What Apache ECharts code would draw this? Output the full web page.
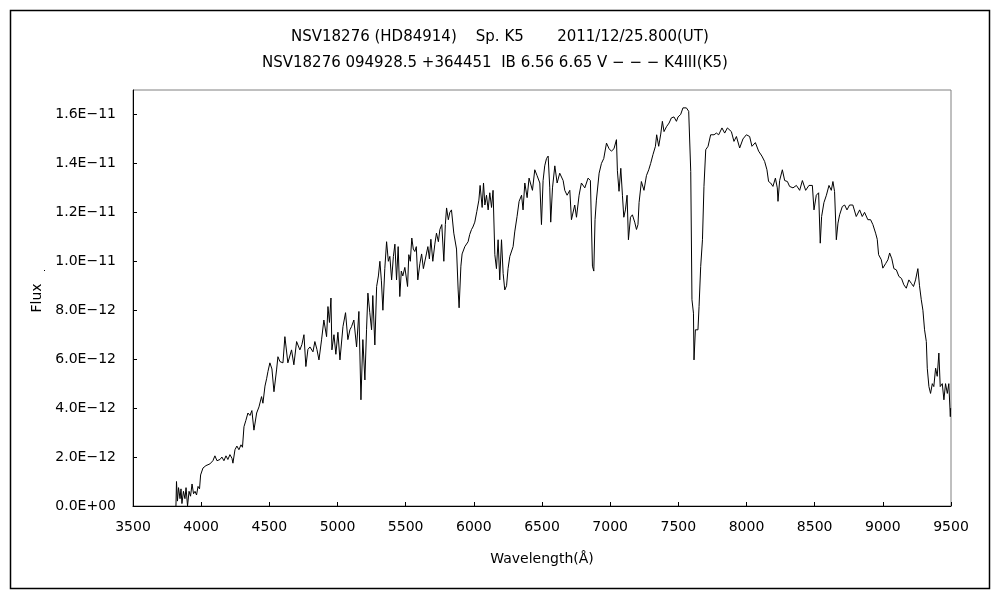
<!DOCTYPE html>
<html>
<head>
<meta charset="utf-8">
<script src="https://cdn.jsdelivr.net/npm/echarts@6/dist/echarts.min.js"></script>
<style>
html,body{margin:0;padding:0;background:#fff;}
#chart{width:1000px;height:600px;}
</style>
</head>
<body>
<div id="chart"></div>
<script>
// Wavelength (Angstrom)
const wavelength = [
3815,3819,3826,3834,3845,3852,3859,3870,3881,3889,3900,3911,3922,3933,3944,3955,3966,3977,3988,
3996,4013,4035,4064,4086,4101,4116,4138,4152,4167,4182,4196,4211,4226,4233,4248,4262,4277,4292,4303,
4314,4328,4343,4358,4372,4387,4407,4424,4443,4453,4468,4480,4490,4504,4519,4534,4553,4563,4578,4600,
4614,4636,4663,4680,4700,4724,4739,4754,4768,4783,4798,4820,4834,4849,4864,4883,4900,4920,4930,4941,
4952,4959,4974,4988,5003,5018,5040,5059,5076,5091,5103,5120,5140,5157,5172,5186,5201,5213,5223,5237,
5250,5259,5274,5287,5300,5311,5322,5333,5347,5360,5373,5384,5397,5410,5421,5433,5445,5457,5468,5479,
5494,5514,5523,5534,5545,5556,5567,5578,5589,5604,5617,5630,5641,5652,5663,5674,5685,5699,5714,5726,
5740,5751,5765,5780,5791,5800,5813,5824,5836,5853,5873,5885,5892,5905,5914,5934,5958,5970,5983,5993,
6007,6022,6037,6046,6061,6071,6081,6093,6105,6117,6130,6141,6154,6166,6178,6190,6203,6215,6227,6240,
6251,6264,6288,6300,6317,6332,6350,6361,6374,6391,6405,6430,6447,6464,6484,6496,6508,6520,6533,6545,
6557,6564,6577,6594,6611,6630,6655,6667,6684,6704,6716,6740,6753,6772,6789,6814,6838,6855,6870,6880,
6889,6899,6919,6936,6953,6973,6992,7009,7028,7046,7053,7065,7078,7090,7100,7112,7124,7134,7149,7163,
7180,7193,7204,7212,7229,7248,7266,7283,7297,7314,7332,7341,7356,7371,7383,7395,7413,7432,7449,7468,
7486,7498,7517,7534,7559,7576,7591,7600,7611,7615,7625,7644,7652,7664,7677,7688,7701,7718,7737,7762,
7779,7796,7820,7840,7860,7889,7908,7926,7950,7974,7999,8023,8040,8065,8089,8113,8133,8150,8162,8177,
8194,8212,8226,8231,8243,8263,8280,8300,8316,8341,8366,8390,8410,8434,8458,8483,8495,8512,8529,8541,
8551,8568,8586,8605,8622,8634,8646,8659,8671,8683,8703,8720,8737,8756,8780,8805,8830,8849,8866,8890,
8910,8927,8947,8959,8969,8989,9000,9020,9037,9050,9066,9081,9099,9118,9137,9154,9172,9191,9209,9225,
9240,9257,9269,9282,9294,9306,9319,9326,9338,9350,9363,9374,9387,9399,9411,9421,9436,9448,9460,9473,
9484,9495,9497
];
// Flux in units of 1E-12
const fluxE12 = [
0.0,1.0,0.2,0.75,0.3,0.7,0.1,0.6,0.3,0.75,0.0,0.6,0.4,0.9,0.5,0.6,0.45,0.8,0.7,
1.27,1.55,1.65,1.72,1.85,2.05,1.85,1.9,2.0,1.85,2.05,1.9,2.1,1.95,1.75,2.3,2.45,2.3,2.5,2.4,
3.24,3.5,3.8,3.7,3.9,3.1,3.8,4.05,4.47,4.2,4.9,5.2,5.5,5.85,5.6,4.67,5.56,6.1,5.9,5.85,
6.92,5.85,6.38,5.77,6.72,6.38,6.6,7.0,5.7,6.4,6.5,6.3,6.72,6.4,5.97,6.79,7.6,6.92,8.15,7.5,
8.5,6.38,7.0,6.2,7.1,5.97,7.33,7.9,6.8,7.2,7.33,7.6,6.5,7.95,4.34,6.8,5.15,7.2,8.7,7.9,
7.2,8.6,6.58,8.97,9.4,10.0,9.2,8.0,9.7,10.8,10.0,10.2,9.24,10.2,10.7,9.24,10.6,8.56,9.6,9.4,
9.75,8.97,10.27,10.0,10.95,10.5,10.4,10.6,9.24,9.9,10.3,9.7,9.75,10.3,10.6,10.1,10.9,10.0,10.7,11.15,
10.8,11.3,11.5,10.0,11.5,12.18,11.7,12.0,12.1,11.15,10.5,8.83,8.1,9.8,10.3,10.6,10.8,11.1,11.3,11.4,
11.6,12.04,12.5,13.1,12.2,13.2,12.3,12.7,12.1,12.8,12.2,12.9,10.27,9.7,10.88,9.24,10.88,9.5,8.83,9.0,
9.7,10.2,10.6,11.2,11.83,12.45,12.7,12.1,13.2,12.6,13.4,12.9,13.74,13.5,13.2,11.5,13.3,13.9,14.2,14.3,
13.0,11.6,13.0,13.9,13.2,13.6,13.3,12.9,12.7,12.9,11.7,12.3,11.8,12.7,13.2,13.0,13.4,13.3,9.8,9.6,
11.7,12.5,13.6,14.0,14.2,14.83,14.6,14.5,14.6,14.97,13.7,12.86,13.8,12.7,11.8,12.1,12.7,10.88,11.8,11.9,
11.6,11.3,11.5,12.4,13.26,12.9,13.5,13.74,14.0,14.36,14.7,15.17,14.7,15.2,15.72,15.3,15.5,15.65,15.86,15.9,
15.72,15.9,16.0,16.27,16.27,16.13,13.67,8.43,7.88,5.97,7.2,7.2,8.15,9.79,10.88,13.06,14.56,14.7,15.17,15.17,
15.24,15.17,15.45,15.24,15.45,15.3,14.9,15.1,14.63,15.0,15.17,15.1,14.7,14.85,14.5,14.3,14.08,13.74,13.26,13.2,
13.06,13.4,13.0,12.45,13.3,13.74,13.3,13.26,13.06,13.0,13.1,12.9,13.3,12.9,13.1,13.1,12.1,12.7,12.8,10.74,
11.83,12.4,12.7,13.1,12.9,13.26,12.85,10.88,11.56,11.9,12.24,12.3,12.1,12.3,12.3,11.83,12.1,11.83,12.0,11.7,
11.7,11.5,11.15,10.9,10.27,10.06,9.72,9.9,10.06,10.34,10.1,9.7,9.65,9.38,9.3,9.04,8.9,9.24,9.1,8.97,
9.24,9.7,9.0,8.43,8.0,7.2,6.72,5.63,4.88,4.6,5.0,4.88,5.63,5.3,6.25,4.88,5.0,4.34,5.0,4.6,
5.0,3.65,4.0
];
const xTicks = [3500,4000,4500,5000,5500,6000,6500,7000,7500,8000,8500,9000,9500];
const yTicks = [0,2e-12,4e-12,6e-12,8e-12,1e-11,1.2e-11,1.4e-11,1.6e-11];
const titleLine1 = 'NSV18276 (HD84914)    Sp. K5       2011/12/25.800(UT)';
const titleLine2 = 'NSV18276 094928.5 +364451  IB 6.56 6.65 V − − − K4III(K5)';

const seriesData = wavelength.map((w, i) => [w, fluxE12[i] * 1e-12]);

function fmtExp(v) {
  if (v === 0) return '0.0E+00';
  const s = v.toExponential(1);
  const [m, e] = s.split('e');
  const sign = e[0] === '-' ? '−' : '+';
  let d = e.replace(/^[+-]/, '');
  if (d.length < 2) d = '0' + d;
  return m + 'E' + sign + d;
}

const FONT = '"DejaVu Sans", "Liberation Sans", sans-serif';
const chart = echarts.init(document.getElementById('chart'), null, {renderer: 'canvas'});
chart.setOption({
  animation: false,
  backgroundColor: '#ffffff',
  title: [
    {text: titleLine1, left: 286, top: 25, textStyle: {fontSize: 15, fontWeight: 'normal', color: '#000', fontFamily: FONT}},
    {text: titleLine2, left: 257, top: 51, textStyle: {fontSize: 15, fontWeight: 'normal', color: '#000', fontFamily: FONT}}
  ],
  graphic: [
    {type: 'rect', shape: {x: 10.5, y: 10.5, width: 979, height: 578}, style: {fill: 'none', stroke: '#000', lineWidth: 1.5}, z: -1},
    {type: 'rect', shape: {x: 44, y: 270, width: 1, height: 1}, style: {fill: '#000'}}
  ],
  grid: {left: 133, right: 49, top: 90, bottom: 94, show: true, borderColor: '#808080', borderWidth: 1, backgroundColor: 'transparent'},
  xAxis: {
    type: 'value', min: 3500, max: 9500, interval: 500,
    name: 'Wavelength(Å)', nameLocation: 'middle', nameGap: 46,
    nameTextStyle: {fontSize: 14, color: '#000', fontFamily: FONT},
    axisLine: {show: true, lineStyle: {color: '#000', width: 1}},
    axisTick: {show: true, inside: true, length: 4, lineStyle: {color: '#000'}, customValues: xTicks},
    axisLabel: {fontSize: 14, color: '#000', margin: 14, fontFamily: FONT, customValues: xTicks, formatter: v => String(v)},
    splitLine: {show: false}
  },
  yAxis: {
    type: 'value', min: 0, max: 1.7e-11,
    name: 'Flux', nameLocation: 'middle', nameGap: 86, nameRotate: 90,
    nameTextStyle: {fontSize: 14, color: '#000', fontFamily: FONT},
    axisLine: {show: true, lineStyle: {color: '#000', width: 1}},
    axisTick: {show: true, inside: true, length: 4, lineStyle: {color: '#000'}, customValues: yTicks},
    axisLabel: {fontSize: 14, color: '#000', margin: 17, fontFamily: FONT, customValues: yTicks, formatter: fmtExp},
    splitLine: {show: false}
  },
  series: [{
    type: 'line', data: seriesData, showSymbol: false, symbol: 'none',
    lineStyle: {color: '#000', width: 1}, smooth: false, silent: true
  }]
});
</script>
</body>
</html>
